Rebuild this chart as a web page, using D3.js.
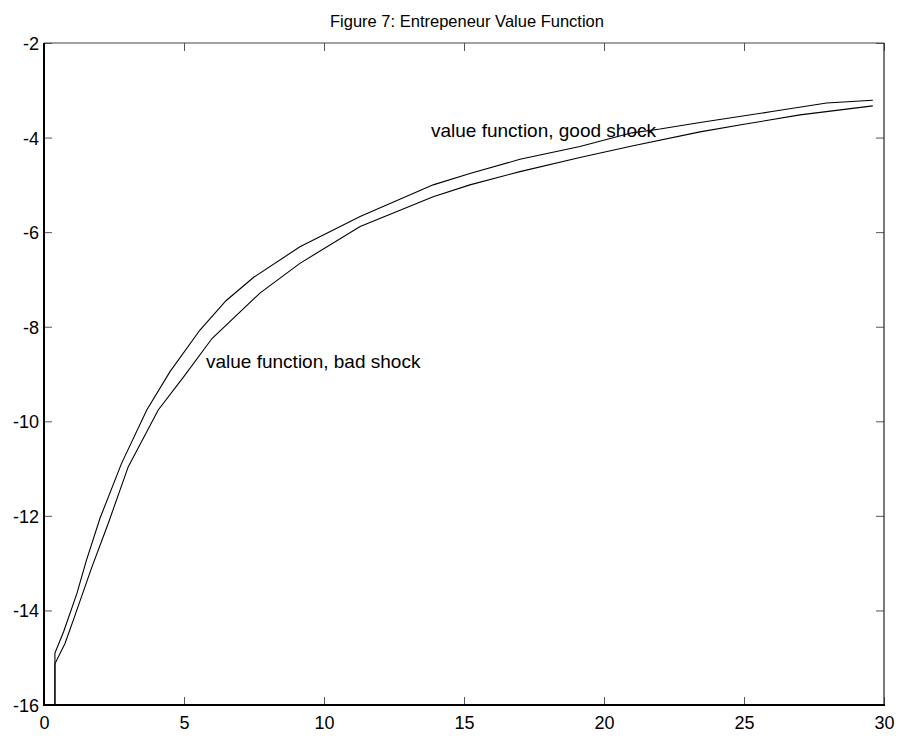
<!DOCTYPE html>
<html>
<head>
<meta charset="utf-8">
<script src="https://cdn.jsdelivr.net/npm/d3@7"></script>
<style>
  html, body { margin: 0; padding: 0; background: #fff; }
  svg { display: block; font-family: "Liberation Sans", Arial, Helvetica, sans-serif; }
</style>
</head>
<body>
<svg id="chart" width="900" height="738"></svg>
<script>
// Wealth grid (x) and value function for each productivity shock
const goodX = [0.39, 0.39, 0.7, 1.17, 1.52, 2.0, 2.77, 3.67, 4.5, 5.57, 6.5, 7.5, 9.14, 11.29, 13.9, 15.21, 17, 19.14, 21, 22, 23.43, 26, 27.95, 29.6];
const goodV = [-16, -14.9, -14.45, -13.65, -12.93, -12.05, -10.89, -9.76, -8.95, -8.07, -7.45, -6.95, -6.31, -5.67, -5.0, -4.76, -4.46, -4.19, -3.9, -3.82, -3.68, -3.45, -3.27, -3.21];

const badX = [0.39, 0.39, 0.75, 1.05, 1.7, 2.3, 3.01, 4.08, 5, 6, 7.71, 9.14, 11.29, 13.9, 15.21, 17, 19.14, 21, 23.43, 25, 27, 29.6];
const badV = [-16, -15.13, -14.7, -14.2, -13.1, -12.15, -10.96, -9.76, -9.05, -8.25, -7.29, -6.66, -5.88, -5.25, -5.0, -4.72, -4.42, -4.18, -3.88, -3.72, -3.52, -3.33];

const xTicks = [0, 5, 10, 15, 20, 25, 30];
const yTicks = [-16, -14, -12, -10, -8, -6, -4, -2];

const titleText = "Figure 7: Entrepeneur Value Function";
const goodLabel = "value function, good shock";
const badLabel = "value function, bad shock";

const svg = d3.select("#chart");
const plotL = 44, plotR = 884, plotT = 43, plotB = 705;

const x = d3.scaleLinear().domain([0, 30]).range([plotL, plotR]);
const y = d3.scaleLinear().domain([-16, -2]).range([plotB, plotT]);

// Plain ASCII hyphen for negative tick labels
const fmt = d => String(d);

// Title
svg.append("text")
  .attr("x", (plotL + plotR) / 2 + 3)
  .attr("y", 27)
  .attr("text-anchor", "middle")
  .attr("font-size", 16.5)
  .text(titleText);

const tickLen = 8;

// Bottom axis: labels, inward ticks
const gBottom = svg.append("g").attr("transform", `translate(0,${plotB})`)
  .call(d3.axisBottom(x).tickValues(xTicks).tickSizeInner(-tickLen).tickSizeOuter(0).tickPadding(11).tickFormat(fmt));
// Top axis: ticks only
const gTop = svg.append("g").attr("transform", `translate(0,${plotT})`)
  .call(d3.axisTop(x).tickValues(xTicks).tickSizeInner(-tickLen).tickSizeOuter(0).tickFormat(""));
// Left axis: labels, inward ticks
const gLeft = svg.append("g").attr("transform", `translate(${plotL},0)`)
  .call(d3.axisLeft(y).tickValues(yTicks).tickSizeInner(-tickLen).tickSizeOuter(0).tickPadding(5).tickFormat(fmt));
// Right axis: ticks only
const gRight = svg.append("g").attr("transform", `translate(${plotR},0)`)
  .call(d3.axisRight(y).tickValues(yTicks).tickSizeInner(-tickLen).tickSizeOuter(0).tickFormat(""));

[gBottom, gTop, gLeft, gRight].forEach(g => {
  g.select(".domain").remove();
  g.selectAll(".tick line").attr("stroke", "#555").attr("stroke-width", 1);
  g.selectAll(".tick text").attr("fill", "#000").attr("font-size", 18)
    .attr("font-family", "Liberation Sans, Arial, sans-serif");
});
gLeft.selectAll(".tick text").attr("dy", "0.36em");
gBottom.selectAll(".tick text").attr("dy", "0.71em");

// Frame
svg.append("line").attr("x1", plotL).attr("x2", plotR).attr("y1", plotT).attr("y2", plotT)
  .attr("stroke", "#444").attr("stroke-width", 1);
svg.append("line").attr("x1", plotR).attr("x2", plotR).attr("y1", plotT).attr("y2", plotB)
  .attr("stroke", "#222").attr("stroke-width", 1.2);
svg.append("line").attr("x1", plotL).attr("x2", plotL).attr("y1", plotT).attr("y2", plotB + 1)
  .attr("stroke", "#000").attr("stroke-width", 2);
svg.append("line").attr("x1", plotL - 1).attr("x2", plotR + 1).attr("y1", plotB).attr("y2", plotB)
  .attr("stroke", "#000").attr("stroke-width", 2);

// Value function curves
const line = d3.line().x(d => x(d[0])).y(d => y(d[1]));
const goodPts = goodX.map((v, i) => [v, goodV[i]]);
const badPts = badX.map((v, i) => [v, badV[i]]);

svg.append("path").datum(goodPts).attr("d", line)
  .attr("fill", "none").attr("stroke", "#000").attr("stroke-width", 1.1);
svg.append("path").datum(badPts).attr("d", line)
  .attr("fill", "none").attr("stroke", "#000").attr("stroke-width", 1.1);

// Curve labels
svg.append("text").attr("x", 431).attr("y", 137).attr("font-size", 19).text(goodLabel);
svg.append("text").attr("x", 206).attr("y", 368).attr("font-size", 19).text(badLabel);
</script>
</body>
</html>
